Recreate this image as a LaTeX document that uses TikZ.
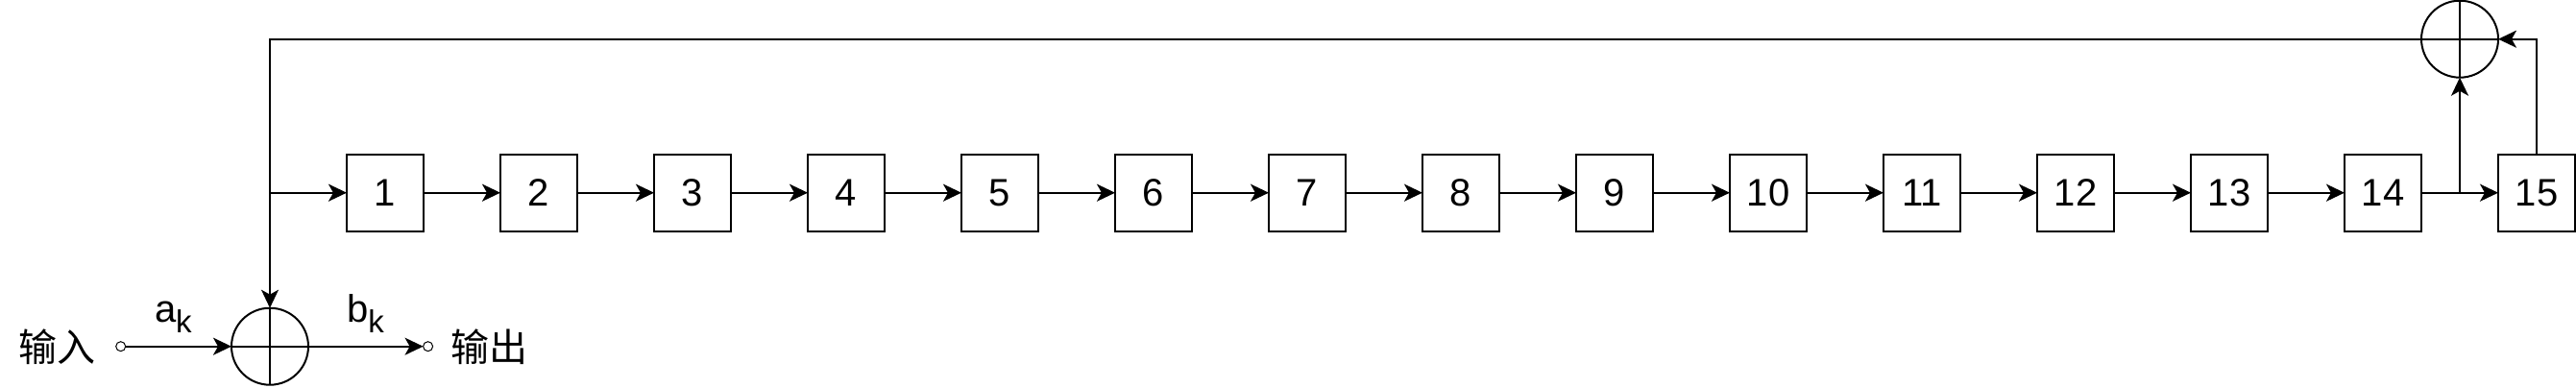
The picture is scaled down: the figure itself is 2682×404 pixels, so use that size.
\documentclass[tikz,border=0pt]{standalone}
\usepackage{fontspec}
\setmainfont{Liberation Sans}
\newfontfamily\cjk{Noto Sans CJK SC}
\usetikzlibrary{arrows.meta}
\tikzset{
  x=1pt,y=-1pt,
  lbl/.style={font=\fontsize{40}{48}\selectfont,inner sep=0pt,outer sep=0pt},
  regbox/.style={draw,line width=2pt,minimum size=80pt,inner sep=0pt,outer sep=0pt,lbl},
  xorsum/.style={draw,circle,line width=2pt,minimum size=80pt,inner sep=0pt,outer sep=0pt},
  port/.style={draw,circle,fill=white,line width=1pt,minimum size=10pt,inner sep=0pt,outer sep=0pt},
  conn/.style={line width=2pt,-{Stealth[length=19pt,width=18pt,inset=5pt]}},
  plain/.style={line width=2pt},
  cjktext/.style={lbl,font=\cjk\fontsize{40}{48}\selectfont}
}
\begin{document}
\begin{tikzpicture}
\useasboundingbox (0,0) rectangle (2682,404);
\foreach \i in {1,...,15}{
  \node[regbox] (r\i) at ({401+160*(\i-1)},200.7) {\raisebox{-1.3pt}{\i}};
}
\foreach \i [remember=\i as \p (initially 1)] in {2,...,15}{
  \draw[conn] (r\p.east) -- (r\i.west);
}
\node[xorsum] (s1) at (281,360.7) {};
\node[xorsum] (s2) at (2561,40.7) {};
\draw[plain] (s1.north) -- (s1.south) (s1.west) -- (s1.east);
\draw[plain] (s2.north) -- (s2.south) (s2.west) -- (s2.east);
\node[port] (pin) at (125.7,360.7) {};
\node[port] (pout) at (445.6,360.7) {};
\node[cjktext] (tin) at (59.7,361.5) {输入};
\node[cjktext] (tout) at (509,361.5) {输出};
\node[lbl,anchor=base west] (ta) at (161,335) {a\raisebox{-11pt}{\fontsize{33}{40}\selectfont k}};
\node[lbl,anchor=base west] (tb) at (361,335) {b\raisebox{-11pt}{\fontsize{33}{40}\selectfont k}};
\coordinate (top) at (281,40.7);
\coordinate (branch) at (281,200.7);
\coordinate (tap) at (2561,200.7);
\draw[conn] (pin.east) -- (s1.west);
\draw[conn] (s1.east) -- (pout.west);
\draw[conn] (s2.west) -- (top) -- (s1.north);
\draw[conn] (branch) -- (r1.west);
\draw[conn] (tap) -- (s2.south);
\draw[conn] (r15.north) |- (s2.east);
\end{tikzpicture}
\end{document}
